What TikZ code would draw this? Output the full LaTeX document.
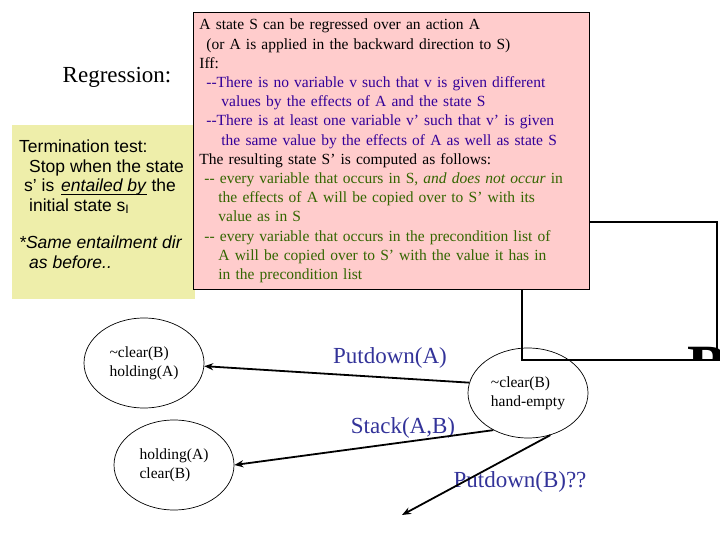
\documentclass[tikz,border=0pt]{standalone}
\usepackage{fontspec}
\setmainfont{Liberation Serif}
\newfontfamily\arialfont{Liberation Sans}
\usetikzlibrary{arrows.meta,shapes.geometric}
\definecolor{rulepink}{HTML}{FFCCCC}
\definecolor{termyellow}{HTML}{EEEEAA}
\definecolor{condblue}{HTML}{330099}
\definecolor{copygreen}{HTML}{336600}
\definecolor{actblue}{HTML}{333399}
\newcommand\entul[1]{\setbox0\hbox{#1}\rlap{\rule[-3pt]{\wd0}{1pt}}\box0\relax}
\tikzset{
  state/.style={draw, ellipse, line width=0.7pt, minimum width=120pt, minimum height=90pt,
    inner sep=1pt, align=left, font=\fontsize{15.5}{19}\selectfont},
  act/.style={-{Stealth[length=9pt,width=7pt]}, line width=1.8pt},
  actlabel/.style={text=actblue, inner sep=0pt, font=\fontsize{23}{27}\selectfont},
}
\begin{document}
\begin{tikzpicture}[x=1pt, y=-1pt]
    \useasboundingbox (0,0) rectangle (720,540);

    % termination test box
    \node[fill=termyellow, anchor=north west, minimum width=183pt, minimum height=174pt, inner sep=0pt] (termbox) at (12,125) {};
    \node[anchor=north west, align=left, inner sep=3pt, font=\arialfont\fontsize{17.5}{19.5}\selectfont] (termtext) at (16,137)
        {Termination test:\\
         \hspace*{10pt}Stop when the state\\
         \hspace*{5pt}s’ is \hspace{2pt}\entul{\textit{entailed by}} the\\
         \hspace*{10pt}initial state s\textsubscript{I}\\[18pt]
         \textit{*Same entailment dir}\\
         \hspace*{10pt}\textit{as before..}};

    \node[font=\fontsize{23}{27}\selectfont] (regr) at (117,77) {Regression:};

    % blocks picture behind the rule box
    \begin{scope}
        \clip (522,222) rectangle (720,360.7);
        \node[anchor=north west, inner sep=0pt, font=\fontsize{60}{60}\selectfont\bfseries] (blockB) at (687,347) {B};
    \end{scope}
    \draw[line width=1.3pt] (522,222) rectangle (717,360);

    % regression rule
    \node[draw, line width=0.8pt, fill=rulepink, anchor=north west, minimum width=396pt, minimum height=277pt,
          text width=384pt, inner sep=6pt, align=left, font=\fontsize{15.5}{19.2}\selectfont] (rules) at (193,12)
        {A state S can be regressed over an action A\\
         \hspace*{7pt}(or A is applied in the backward direction to S)\\
         Iff:\\
         \textcolor{condblue}{\hspace*{7pt}-{}-There is no variable v such that v is given different}\\
         \textcolor{condblue}{\hspace*{22pt}values by the effects of A and the state S}\\
         \textcolor{condblue}{\hspace*{7pt}-{}-There is at least one variable v’ such that v’ is given}\\
         \textcolor{condblue}{\hspace*{22pt}the same value by the effects of A as well as state S}\\
         The resulting state S’ is computed as follows:\\
         \textcolor{copygreen}{\hspace*{5pt}-{}- every variable that occurs in S, \textit{and does not occur} in}\\
         \textcolor{copygreen}{\hspace*{19pt}the effects of A will be copied over to S’ with its}\\
         \textcolor{copygreen}{\hspace*{19pt}value as in S}\\
         \textcolor{copygreen}{\hspace*{5pt}-{}- every variable that occurs in the precondition list of}\\
         \textcolor{copygreen}{\hspace*{19pt}A will be copied over to S’ with the value it has in}\\
         \textcolor{copygreen}{\hspace*{19pt}in the precondition list}};

    % states
    \node[state] (hold) at (144,363) {\textasciitilde clear(B)\\holding(A)};
    \node[state] (clr) at (174,465) {holding(A)\\clear(B)};
    \node[state] (hand) at (528,393) {\textasciitilde clear(B)\\hand-empty};
    \coordinate (putBend) at (402,515);

    \node[actlabel] (putA) at (390,358) {Putdown(A)};
    \node[actlabel] (stackAB) at (403,428) {Stack(A,B)};
    \node[actlabel] (putB) at (520,482) {Putdown(B)??};

    \draw[act] (hand.170) -- (hold.-3);
    \draw[act] (hand.227) -- (clr.east);
    \draw[act] (hand.-62) -- (putBend);
\end{tikzpicture}
\end{document}
